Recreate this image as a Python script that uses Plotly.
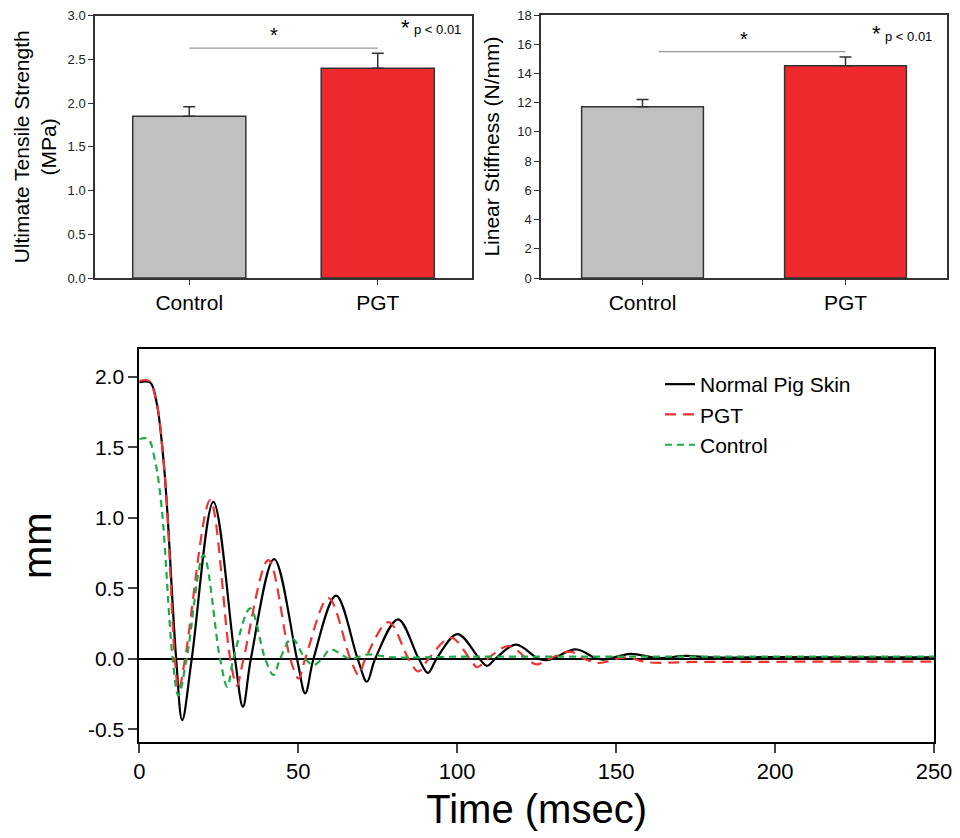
import plotly.graph_objects as go

# bar panels
groups = ["Control", "PGT"]
uts_mean = [1.85, 2.40]
uts_err = [0.11, 0.17]
stiff_mean = [11.72, 14.53]
stiff_err = [0.50, 0.60]
bar_colors = ["#c0c0c0", "#ee2a2e"]

# displacement traces (msec, mm): flats, extrema and crossings
skin_t = [0, 3.4, 5.5, 7.6, 8.8, 11.6, 13.5, 16.5, 23.3, 30.1, 32.6, 35.1, 42.4, 49.6, 52.2,
          54.8, 61.9, 68.7, 71.6, 74.2, 81.4, 87.9, 90.8, 93.5, 100.1, 107.0, 109.4, 112.0,
          118.5, 125.5, 127.8, 130.0, 137.3, 144.0, 146.5, 154.5, 163.0, 172.0, 180.0,
          200.0, 225.0, 250.0]
skin_y = [1.96, 1.96, 1.81, 1.41, 1.05, 0.0, -0.435, 0.0, 1.113, 0.0, -0.34, 0.0, 0.707, 0.0, -0.245,
          0.0, 0.447, 0.0, -0.163, 0.0, 0.28, 0.0, -0.10, 0.0, 0.175, 0.0, -0.05, 0.0,
          0.10, 0.0, -0.01, 0.0, 0.066, 0.0, -0.005, 0.035, 0.005, 0.02, 0.01,
          0.012, 0.01, 0.01]

pgt_t = [0, 3.0, 5.5, 7.6, 8.8, 11.2, 12.4, 14.4, 22.3, 28.6, 30.7, 32.8, 40.6, 47.5, 50.1,
         52.2, 59.5, 66.4, 69.0, 71.1, 78.4, 84.7, 87.8, 91.0, 98.0, 104.0, 106.3, 109.5,
         116.2, 122.0, 125.0, 129.0, 135.6, 140.0, 144.5, 153.0, 160.0, 175.0, 195.0,
         215.0, 235.0, 250.0]
pgt_y = [1.97, 1.97, 1.81, 1.41, 1.05, 0.0, -0.22, 0.0, 1.125, 0.0, -0.19, 0.0, 0.70, 0.0, -0.14,
         0.0, 0.43, 0.0, -0.115, 0.0, 0.26, 0.0, -0.09, 0.0, 0.15, 0.0, -0.06, 0.0,
         0.09, 0.0, -0.04, 0.0, 0.05, 0.0, -0.03, 0.01, -0.025, -0.022, -0.022,
         -0.02, -0.02, -0.02]

ctrl_t = [0, 2.8, 4.9, 7.0, 10.5, 12.3, 14.9, 20.2, 25.4, 27.7, 29.6, 34.9, 39.6, 42.2, 44.3,
          48.0, 52.2, 54.8, 57.5, 60.1, 66.4, 71.6, 80.0, 100.0, 150.0, 200.0, 250.0]
ctrl_y = [1.558, 1.558, 1.41, 1.08, 0.0, -0.26, 0.0, 0.735, 0.0, -0.20, 0.0, 0.357, 0.0, -0.115, 0.0,
          0.145, 0.0, -0.045, 0.0, 0.066, 0.0, 0.03, 0.01, 0.015, 0.015, 0.015, 0.015]

mm_ticks = [-0.5, 0.0, 0.5, 1.0, 1.5, 2.0]

W, H = 960, 838
def px(x):
    return x / W
def py(y):
    return 1 - y / H

font = "Liberation Sans, Arial, sans-serif"
frame = "#333333"

fig = go.Figure()

for vals, errs, ax in [(uts_mean, uts_err, ""), (stiff_mean, stiff_err, "2")]:
    fig.add_trace(go.Bar(
        x=groups, y=vals, width=0.6,
        marker=dict(color=bar_colors, line=dict(color=frame, width=1.5)),
        error_y=dict(type="data", symmetric=False, array=errs, arrayminus=[0, 0],
                     color=frame, thickness=1.5, width=6),
        xaxis="x" + ax, yaxis="y" + ax, showlegend=False))

fig.add_trace(go.Scatter(x=skin_t, y=skin_y, name="Normal Pig Skin", mode="lines",
                         line=dict(color="black", width=2.2, shape="spline", smoothing=1),
                         xaxis="x3", yaxis="y3"))
fig.add_trace(go.Scatter(x=pgt_t, y=pgt_y, name="PGT", mode="lines",
                         line=dict(color="#ee3333", width=2.2, dash="11px,7px", shape="spline", smoothing=1),
                         xaxis="x3", yaxis="y3"))
fig.add_trace(go.Scatter(x=ctrl_t, y=ctrl_y, name="Control", mode="lines",
                         line=dict(color="#1faa4a", width=2.2, dash="7px,5px", shape="spline", smoothing=1),
                         xaxis="x3", yaxis="y3"))

bar_x = dict(showline=True, linecolor=frame, linewidth=1.5, mirror=True, ticks="outside",
             ticklen=5, tickcolor=frame, tickfont=dict(family=font, size=21, color="black"),
             automargin=False, fixedrange=True)
bar_y = dict(showline=True, linecolor=frame, linewidth=1.5, mirror=True, ticks="outside",
             ticklen=5, tickcolor=frame, showgrid=False, zeroline=False, automargin=False,
             tickfont=dict(family=font, size=13, color="#222"))

fig.update_layout(
    width=W, height=H, margin=dict(l=0, r=0, t=0, b=0, autoexpand=False),
    plot_bgcolor="white", paper_bgcolor="white",
    font=dict(family=font, color="black"),
    xaxis=dict(bar_x, domain=[px(95), px(472)], anchor="y"),
    yaxis=dict(bar_y, domain=[py(278), py(15.7)], anchor="x", range=[0, 3.0], dtick=0.5,
               tickformat=".1f",
               title=dict(text="Ultimate Tensile Strength<br>(MPa)", font=dict(size=21), standoff=5)),
    xaxis2=dict(bar_x, domain=[px(541), px(947)], anchor="y2"),
    yaxis2=dict(bar_y, domain=[py(278), py(15)], anchor="x2", range=[0, 18], dtick=2,
                title=dict(text="Linear Stiffness (N/mm)", font=dict(size=21), standoff=12)),
    xaxis3=dict(domain=[px(139.3), px(934)], anchor="y3", range=[0, 250], dtick=50,
                showline=True, linecolor="black", linewidth=2, mirror=True, ticks="outside",
                ticklen=9, tickwidth=1.5, showgrid=False, zeroline=False, automargin=False,
                tickfont=dict(size=22),
                title=dict(text="Time (msec)", font=dict(size=40), standoff=12)),
    yaxis3=dict(domain=[py(742), py(349.3)], anchor="x3", range=[-0.59, 2.194],
                tickvals=mm_ticks, ticktext=[f"{v:.1f}" for v in mm_ticks],
                showline=True, linecolor="black", linewidth=2, mirror=True, automargin=False,
                ticks="outside", ticklen=9, tickwidth=1.5, showgrid=False,
                zeroline=True, zerolinecolor="black", zerolinewidth=1.5,
                tickfont=dict(size=21),
                title=dict(text="mm", font=dict(size=40), standoff=24)),
    legend=dict(x=px(660), y=py(364), xanchor="left", yanchor="top", bgcolor="rgba(0,0,0,0)",
                font=dict(size=21), tracegroupgap=0),
    shapes=[
        dict(type="line", xref="x", yref="y", x0=0, x1=1, y0=2.63, y1=2.63,
             line=dict(color="#999999", width=1.2)),
        dict(type="line", xref="x2", yref="y2", x0=0.08, x1=1, y0=15.5, y1=15.5,
             line=dict(color="#999999", width=1.2)),
    ],
    annotations=[
        dict(x=0.45, y=2.63, xref="x", yref="y", text="*", showarrow=False, yanchor="bottom",
             font=dict(size=20)),
        dict(x=0.5, y=15.5, xref="x2", yref="y2", text="*", showarrow=False, yanchor="bottom",
             font=dict(size=20)),
        dict(x=px(412), y=py(27), xref="paper", yref="paper", text="*", showarrow=False,
             xanchor="right", yanchor="middle", font=dict(size=22)),
        dict(x=px(412), y=py(30), xref="paper", yref="paper", text="p < 0.01", showarrow=False,
             xanchor="left", yanchor="middle", font=dict(size=13)),
        dict(x=px(883), y=py(34), xref="paper", yref="paper", text="*", showarrow=False,
             xanchor="right", yanchor="middle", font=dict(size=22)),
        dict(x=px(883), y=py(36), xref="paper", yref="paper", text="p < 0.01", showarrow=False,
             xanchor="left", yanchor="middle", font=dict(size=13)),
    ],
)

fig.write_html("out.html", config={"displayModeBar": False},
               post_script="document.body.style.margin='0';")
